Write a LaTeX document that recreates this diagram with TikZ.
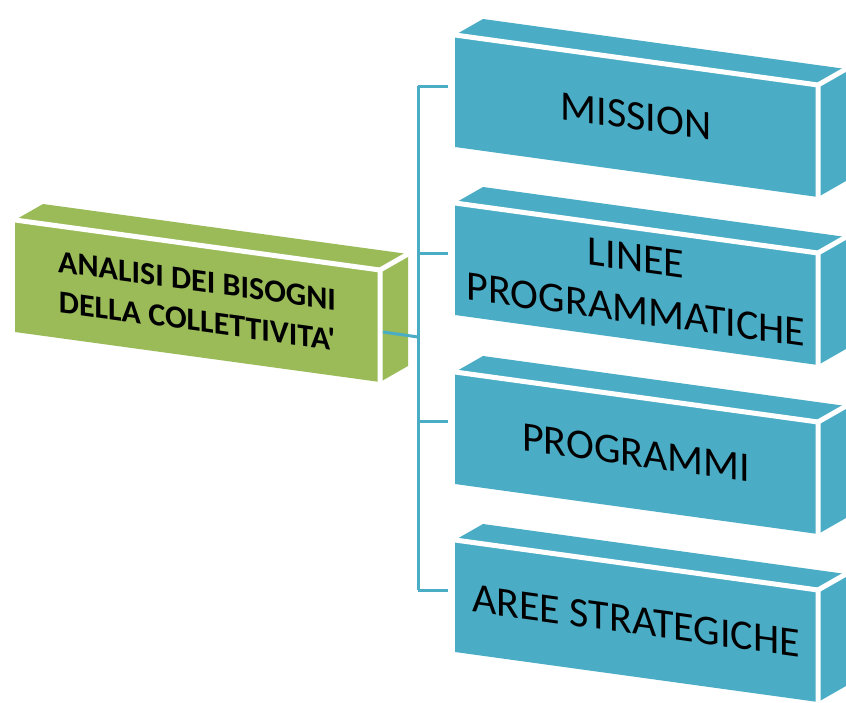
\documentclass[tikz,border=0pt]{standalone}
\usepackage{fontspec}
\setmainfont{Carlito}[Ligatures=TeXOff]
\usepackage{xcolor}
\usepackage{tikz}

\definecolor{slabblue}{HTML}{4BACC6}
\definecolor{slabgreen}{HTML}{9BBB59}

% one slab in perspective: #1 colour, #2 left x, #3 top y, #4 width
\newcommand{\slab}[4]{%
  \fill[#1] (#2,#3) -- ++(#4,50) -- ++(0,112) -- ++(-#4,-50) -- cycle;
  \fill[#1] (#2,#3) -- ++(#4,50) -- ++(28,-16) -- ++(-#4,-50) -- cycle;
  \fill[#1] (#2+#4,#3+50) -- ++(0,112) -- ++(28,-16) -- ++(0,-112) -- cycle;
  \draw[gap] (#2,#3) -- ++(#4,50) -- ++(0,112);
  \draw[gap] (#2+#4,#3+50) -- ++(28,-16);
}

\begin{document}
\begin{tikzpicture}[
    x=1pt, y=-1pt,
    gap/.style={white, line width=5pt},
    link/.style={slabblue, line width=3pt},
    bluetext/.style={align=center, yslant=-0.138, font=\fontsize{42}{52}\selectfont},
    greentext/.style={align=center, yslant=-0.138, font=\fontsize{32}{40}\selectfont\bfseries}
]
\useasboundingbox (0,0) rectangle (846,702);

% Slabs
\slab{slabgreen}{15}{220}{365}
\slab{slabblue}{455}{35}{363}
\slab{slabblue}{455}{203}{363}
\slab{slabblue}{455}{372}{363}
\slab{slabblue}{455}{540}{363}

% Nodes
\node[greentext] (analisi) at (197,301) {ANALISI DEI BISOGNI\\DELLA COLLETTIVITA'};
\node[bluetext] (mission) at (636,116) {MISSION};
\node[bluetext] (linee) at (636,284) {LINEE\\PROGRAMMATICHE};
\node[bluetext] (programmi) at (636,453) {PROGRAMMI};
\node[bluetext] (aree) at (636,621) {AREE STRATEGICHE};

\coordinate (analisi-out) at (383,332);
\coordinate (bus) at (418,337);
\coordinate (mission-in) at (448,86);
\coordinate (linee-in) at (448,253);
\coordinate (programmi-in) at (448,421);
\coordinate (aree-in) at (448,590);

% Edges
\draw[link] (analisi-out) -- (bus);
\draw[link] (bus |- mission-in) -- (bus |- aree-in);
\foreach \n in {mission,linee,programmi,aree}
    \draw[link] (bus |- \n-in) -- (\n-in);

\end{tikzpicture}
\end{document}
